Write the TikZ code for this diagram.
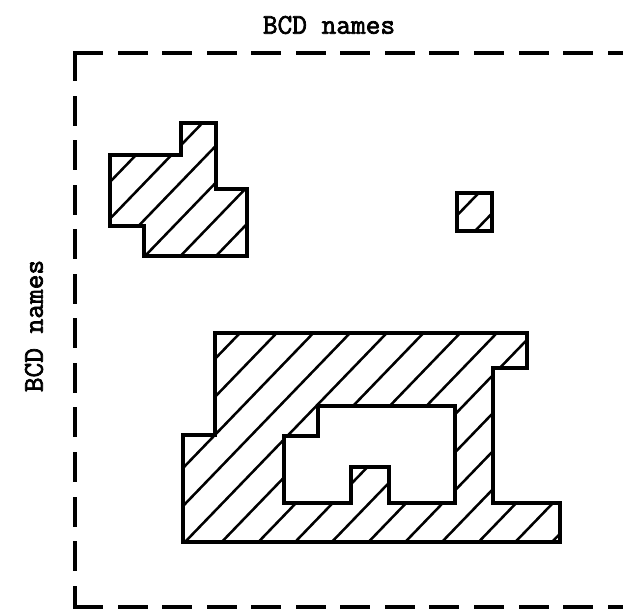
\documentclass[tikz,border=0pt]{standalone}
\usepackage{fontspec}
\newfontfamily\bcdfont[FakeBold=2.5]{Latin Modern Mono}
\begin{document}
\begin{tikzpicture}[x=0.75pt,y=-0.75pt,
  framestyle/.style={line width=2.7pt,line cap=rect,dash pattern=on 19.8pt off 13.6pt},
  outline/.style={line width=2.3pt,line join=miter},
  hatchline/.style={line width=1.9pt,line cap=round},
  lbl/.style={font=\bcdfont\fontsize{21.4}{24}\selectfont,inner sep=0pt}]
\useasboundingbox (0,0) rectangle (623,610);

% frame
\coordinate (tl) at (75,53);
\coordinate (bl) at (75,607);
\coordinate (tr) at (660,53);
\coordinate (br) at (660,607);
\draw[framestyle] (tl) -- (tr);
\draw[framestyle] (tl) -- (bl);
\draw[framestyle] (bl) -- (br);

% labels
\node[lbl] (top) at (329,25) {BCD names};
\node[lbl,rotate=90] (left) at (34,326) {BCD names};

% top-left shape
\begin{scope}
\clip (110,155) -- (181,155) -- (181,123) -- (216,123) -- (216,189) -- (247,189)
  -- (247,256) -- (144,256) -- (144,226) -- (110,226) -- cycle;
\foreach \k in {-6,...,4}
  \draw[hatchline] ({145+35.5*\k-278},{256+288}) -- ++(556,-576);
\end{scope}
\draw[outline] (110,155) -- (181,155) -- (181,123) -- (216,123) -- (216,189) -- (247,189)
  -- (247,256) -- (144,256) -- (144,226) -- (110,226) -- cycle;

% small square
\begin{scope}
\clip (457,193) rectangle (492,231);
\foreach \k in {-2,...,2}
  \draw[hatchline] ({442+33*\k-278},{231+288}) -- ++(556,-576);
\end{scope}
\draw[outline] (457,193) rectangle (492,231);

% big shape
\begin{scope}
\clip (215,333) -- (527,333) -- (527,368) -- (493,368) -- (493,503) -- (560,503)
  -- (560,542) -- (183,542) -- (183,435) -- (215,435) -- cycle;
\foreach \k in {-8,...,11}
  \draw[hatchline] ({185+36.7*\k-278},{542+288}) -- ++(556,-576);
\end{scope}
\fill[white] (318,406) -- (455,406) -- (455,503) -- (389,503) -- (389,467) -- (351,467)
  -- (351,503) -- (284,503) -- (284,436) -- (318,436) -- cycle;
\draw[outline] (215,333) -- (527,333) -- (527,368) -- (493,368) -- (493,503) -- (560,503)
  -- (560,542) -- (183,542) -- (183,435) -- (215,435) -- cycle;
\draw[outline] (318,406) -- (455,406) -- (455,503) -- (389,503) -- (389,467) -- (351,467)
  -- (351,503) -- (284,503) -- (284,436) -- (318,436) -- cycle;
\end{tikzpicture}
\end{document}
